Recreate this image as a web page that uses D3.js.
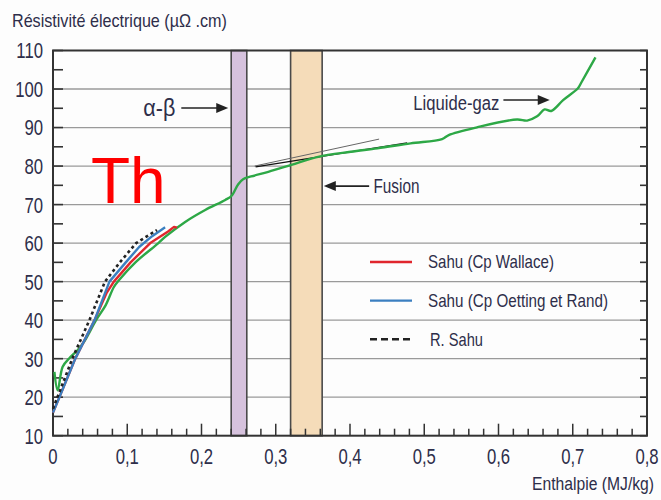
<!DOCTYPE html>
<html>
<head>
<meta charset="utf-8">
<script src="https://cdn.jsdelivr.net/npm/d3@7"></script>
<style>
  html, body { margin: 0; padding: 0; background: #fdfdfd; }
  svg { display: block; }
  .lbl { font-family: "Liberation Sans", Arial, sans-serif; fill: #2e2e4a; }
</style>
</head>
<body>
<script>
// Electrical resistivity of thorium versus enthalpy (pulse-heating data)
const yTicks = [10, 20, 30, 40, 50, 60, 70, 80, 90, 100, 110];
const xTicks = [0, 0.1, 0.2, 0.3, 0.4, 0.5, 0.6, 0.7, 0.8];
const xTickLabels = ["0", "0,1", "0,2", "0,3", "0,4", "0,5", "0,6", "0,7", "0,8"];

// Phase-change bands (enthalpy ranges)
const alphaBetaBand = [0.240, 0.261];
const fusionBand = [0.320, 0.3625];

// Measured curve (green)
const measH = [0.0019, 0.0063, 0.013, 0.022, 0.033, 0.042, 0.058, 0.071, 0.082, 0.089, 0.111, 0.142, 0.151, 0.178, 0.205, 0.232, 0.2406, 0.2495, 0.256, 0.267, 0.29, 0.321, 0.357, 0.401, 0.437, 0.4816, 0.524, 0.533, 0.571, 0.625, 0.6386, 0.652, 0.662, 0.671, 0.687, 0.707, 0.711, 0.7306];
const measR = [26.6, 21.8, 27.9, 30.1, 32.2, 34.4, 40, 43.9, 48.6, 50.4, 55, 60, 61.6, 65.5, 68.6, 71.2, 72.3, 75.3, 76.6, 77.3, 78.5, 80.3, 82.4, 83.7, 84.6, 85.9, 87.0, 88.05, 90.05, 92.1, 91.8, 92.9, 94.7, 94.3, 97.1, 100.2, 101.5, 108.2];

// Sahu (Cp Wallace)
const wallaceH = [0, 0.03, 0.056, 0.072, 0.082, 0.1045, 0.131, 0.155, 0.163, 0.167];
const wallaceR = [16, 30, 40, 47, 50, 55, 60, 63, 64.2, 64];

// Sahu (Cp Oetting et Rand)
const oettingH = [0, 0.0086, 0.03, 0.056, 0.076, 0.098, 0.116, 0.1335, 0.151];
const oettingR = [16, 20, 30, 40, 50, 55, 59, 61.8, 64.1];

// R. Sahu
const sahuH = [0, 0.026, 0.049, 0.07, 0.09, 0.112, 0.14];
const sahuR = [17, 30, 40, 50, 55, 60, 63.4];

// Tangents drawn at the melting transition
const tangentAH = [0.2716, 0.4392], tangentAR = [80.0, 87.0];
const tangentBH = [0.2729, 0.477], tangentBR = [79.8, 86.0];

const legendLabels = ["Sahu (Cp Wallace)", "Sahu (Cp Oetting et Rand)", "R. Sahu"];

const W = 661, H = 500;
const x = d3.scaleLinear().domain([0, 0.8]).range([53, 647]);
const y = d3.scaleLinear().domain([10, 110]).range([435.7, 50.5]);

const svg = d3.select("body").append("svg").attr("width", W).attr("height", H);

// condensed text: squeezed horizontally, either by a fixed factor or to a target width
function label(px, py, str, size, opts = {}) {
  const g = svg.append("g");
  const t = g.append("text").attr("class", "lbl").attr("font-size", size)
    .attr("text-anchor", opts.anchor || "start").attr("dy", opts.dy || null).text(str);
  if (opts.family) t.attr("font-family", opts.family);
  let sx = opts.sx || 1;
  if (opts.len) sx = opts.len / t.node().getComputedTextLength();
  g.attr("transform", `translate(${px},${py}) scale(${sx},1)`);
  return t;
}

// bands
function band(r, fill) {
  svg.append("rect")
    .attr("x", x(r[0])).attr("y", y(110))
    .attr("width", x(r[1]) - x(r[0])).attr("height", y(10) - y(110))
    .attr("fill", fill).attr("stroke", "#4a4a4a").attr("stroke-width", 1.6);
}

// grid
svg.append("g").selectAll("line").data(yTicks.filter(v => v > 10 && v < 110)).join("line")
  .attr("x1", x(0)).attr("x2", x(0.8))
  .attr("y1", d => y(d)).attr("y2", d => y(d))
  .attr("stroke", "#9a9a9a").attr("stroke-width", 1.3);

band(alphaBetaBand, "#d6c2dd");
band(fusionBand, "#f5dcb9");

// y ticks: left axis and right border, pointing inward
const yAll = d3.range(10, 111, 5);
svg.append("g").selectAll("line").data(yAll).join("line")
  .attr("x1", x(0)).attr("x2", x(0) + 10)
  .attr("y1", d => y(d)).attr("y2", d => y(d))
  .attr("stroke", "#333").attr("stroke-width", 1.6);
svg.append("g").selectAll("line").data(yAll).join("line")
  .attr("x1", x(0.8)).attr("x2", x(0.8) - 7)
  .attr("y1", d => y(d)).attr("y2", d => y(d))
  .attr("stroke", "#333").attr("stroke-width", 1.6);

// x ticks (inward), minor every 0.02
const xAll = d3.range(0, 41).map(i => i * 0.02);
svg.append("g").selectAll("line").data(xAll).join("line")
  .attr("x1", d => x(d)).attr("x2", d => x(d))
  .attr("y1", y(10)).attr("y2", (d, i) => y(10) - (i % 5 === 0 ? 12 : 7))
  .attr("stroke", "#333").attr("stroke-width", 1.5);

// frame
svg.append("rect")
  .attr("x", x(0)).attr("y", y(110))
  .attr("width", x(0.8) - x(0)).attr("height", y(10) - y(110))
  .attr("fill", "none").attr("stroke", "#333").attr("stroke-width", 2);

// tick labels
yTicks.forEach(v => label(43, y(v), String(v), 22, { anchor: "end", sx: 0.76, dy: "0.36em" }));
xTicks.forEach((v, i) => label(x(v), 464, xTickLabels[i], 22, { anchor: "middle", sx: 0.76 }));

// axis titles
label(12, 27, "Résistivité électrique (µΩ .cm)", 18, { len: 215 });
label(654, 490, "Enthalpie (MJ/kg)", 19, { anchor: "end", len: 122 });

// curves
const pairs = (a, b) => a.map((v, i) => [v, b[i]]);
const lineLin = d3.line().x(d => x(d[0])).y(d => y(d[1]));

svg.append("path").datum(pairs(tangentAH, tangentAR)).attr("d", lineLin)
  .attr("fill", "none").attr("stroke", "#666").attr("stroke-width", 1);
svg.append("path").datum(pairs(tangentBH, tangentBR)).attr("d", lineLin)
  .attr("fill", "none").attr("stroke", "#111").attr("stroke-width", 1.3);

svg.append("path").datum(pairs(measH, measR))
  .attr("d", d3.line().x(d => x(d[0])).y(d => y(d[1])).curve(d3.curveCatmullRom.alpha(0.5)))
  .attr("fill", "none").attr("stroke", "#2da846").attr("stroke-width", 2.4).attr("stroke-linejoin", "round");
svg.append("path").datum(pairs(wallaceH, wallaceR)).attr("d", lineLin)
  .attr("fill", "none").attr("stroke", "#e0262d").attr("stroke-width", 2.4).attr("stroke-linejoin", "round");
svg.append("path").datum(pairs(oettingH, oettingR)).attr("d", lineLin)
  .attr("fill", "none").attr("stroke", "#3b7fc0").attr("stroke-width", 2.4).attr("stroke-linejoin", "round");
svg.append("path").datum(pairs(sahuH, sahuR)).attr("d", lineLin)
  .attr("fill", "none").attr("stroke", "#222").attr("stroke-width", 2.6).attr("stroke-dasharray", "3,3");

// element symbol
svg.append("text").attr("x", 91).attr("y", 203)
  .attr("font-family", "Liberation Sans, Arial, sans-serif").attr("font-size", 64)
  .attr("fill", "#ff0000").text("Th");

// annotation arrows
function arrow(x1, x2, yv) {
  const px1 = x(x1), px2 = x(x2), py = y(yv);
  const dir = Math.sign(px2 - px1);
  svg.append("line").attr("x1", px1).attr("x2", px2 - dir * 9).attr("y1", py).attr("y2", py)
    .attr("stroke", "#222").attr("stroke-width", 1.6);
  svg.append("path")
    .attr("d", `M${px2},${py} L${px2 - dir * 12},${py - 5} L${px2 - dir * 12},${py + 5} Z`)
    .attr("fill", "#222");
}
arrow(0.1728, 0.236, 95.06);
label(x(0.1648), y(95.06), "α-β", 23, { anchor: "end", dy: "0.35em", family: "Liberation Serif, serif", len: 32 });

arrow(0.4258, 0.3647, 74.8);
label(x(0.4316), y(74.8), "Fusion", 20, { dy: "0.35em", len: 46 });

arrow(0.6066, 0.669, 97.14);
label(x(0.601), y(96.4), "Liquide-gaz", 21, { anchor: "end", dy: "0.35em", len: 86 });

// legend
const legendStyles = [
  { stroke: "#e0262d", dash: null },
  { stroke: "#3b7fc0", dash: null },
  { stroke: "#222", dash: "7,4" }
];
const legendWidths = [126, 180, 53];
legendLabels.forEach((t, i) => {
  const ly = 262 + i * 38.6;
  svg.append("line").attr("x1", 370).attr("x2", 412).attr("y1", ly).attr("y2", ly)
    .attr("stroke", legendStyles[i].stroke).attr("stroke-width", 2.4)
    .attr("stroke-dasharray", legendStyles[i].dash);
  label(i === 2 ? 430 : 428, ly, t, 18, { dy: "0.35em", len: legendWidths[i] });
});
</script>
</body>
</html>
